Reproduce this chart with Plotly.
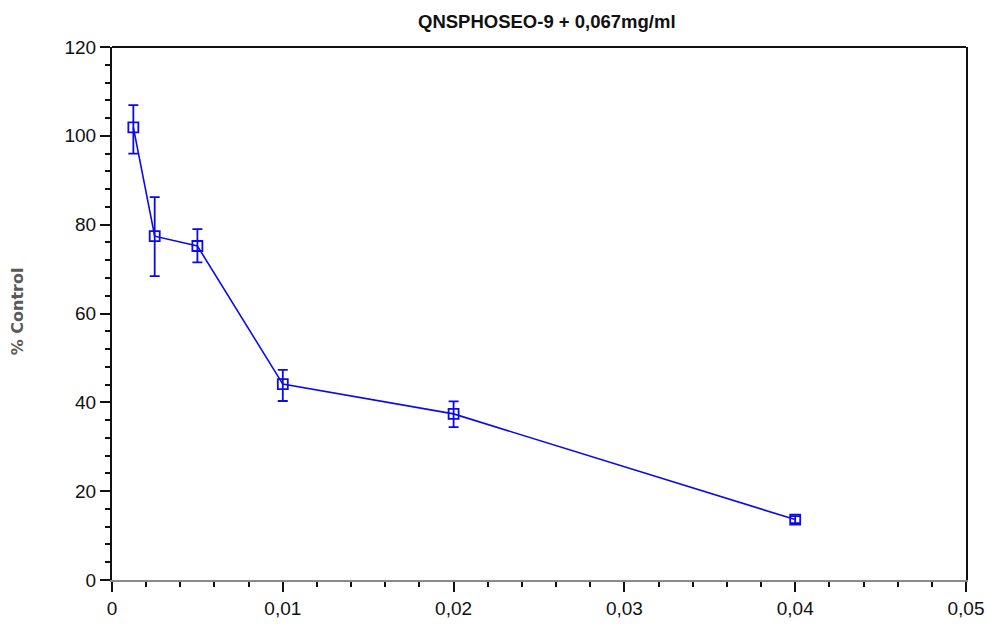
import plotly.graph_objects as go

# Concentration (mg/ml) and response as % of control, with SD
conc = [0.00125, 0.0025, 0.005, 0.01, 0.02, 0.04]
pct_control = [101.9, 77.4, 75.2, 44.1, 37.4, 13.6]
err_plus = [5.0, 8.8, 3.8, 3.2, 2.8, 0.8]
err_minus = [5.9, 9.0, 3.7, 3.8, 3.0, 0.8]

title_text = "QNSPHOSEO-9 + 0,067mg/ml"
y_title = "% Control"

blue = "#0a0aee"
tick_font = dict(family="Liberation Sans Narrow, Arial Narrow, Liberation Sans", size=19, color="#111")

fig = go.Figure()
fig.add_trace(go.Scatter(
    x=conc, y=pct_control,
    mode="lines+markers",
    line=dict(color=blue, width=1.6),
    marker=dict(symbol="square-open", size=10, color=blue, line=dict(width=1.8, color=blue)),
    error_y=dict(type="data", symmetric=False, array=err_plus, arrayminus=err_minus,
                 color=blue, thickness=1.8, width=5),
    showlegend=False,
))

fig.update_layout(
    width=987, height=624,
    margin=dict(l=112, r=21, t=47, b=44),
    paper_bgcolor="white", plot_bgcolor="white",
    separators=", ",
    title=dict(text=f"<b>{title_text}</b>", x=0.554, xanchor="center", y=0.9655, yanchor="middle",
               font=dict(family="Liberation Sans, Arial", size=18.5, color="#111")),
    xaxis=dict(
        range=[0, 0.05], dtick=0.01, tick0=0, automargin=False,
        showgrid=False, zeroline=False,
        showline=True, linecolor="#8a8a8a", linewidth=1.5,
        ticks="outside", ticklen=10, tickwidth=1.5, tickcolor="#111",
        minor=dict(dtick=0.002, ticks="outside", ticklen=5, tickwidth=1.5, tickcolor="#111"),
        tickfont=tick_font,
    ),
    yaxis=dict(
        range=[0, 120], dtick=20, tick0=0, automargin=False,
        showgrid=False, zeroline=False,
        showline=True, linecolor="#111", linewidth=2, mirror=True,
        ticks="outside", ticklen=10, tickwidth=1.5, tickcolor="#111",
        minor=dict(dtick=4, ticks="outside", ticklen=5, tickwidth=1.5, tickcolor="#111"),
        tickfont=tick_font,
    ),
)

# Rotated y-axis caption placed left of the tick labels
fig.add_annotation(
    text=f"<b>{y_title}</b>", textangle=-90, showarrow=False,
    xref="paper", yref="paper", x=-0.1107, y=0.505, xanchor="center", yanchor="middle",
    font=dict(family="DejaVu Sans, Liberation Sans", size=16, color="#5a5a5a"),
)

# Top border of the frame
fig.add_shape(type="line", xref="x domain", yref="y domain", x0=0, x1=1, y0=1, y1=1,
              line=dict(color="#111", width=2))

fig.write_html("out.html")
